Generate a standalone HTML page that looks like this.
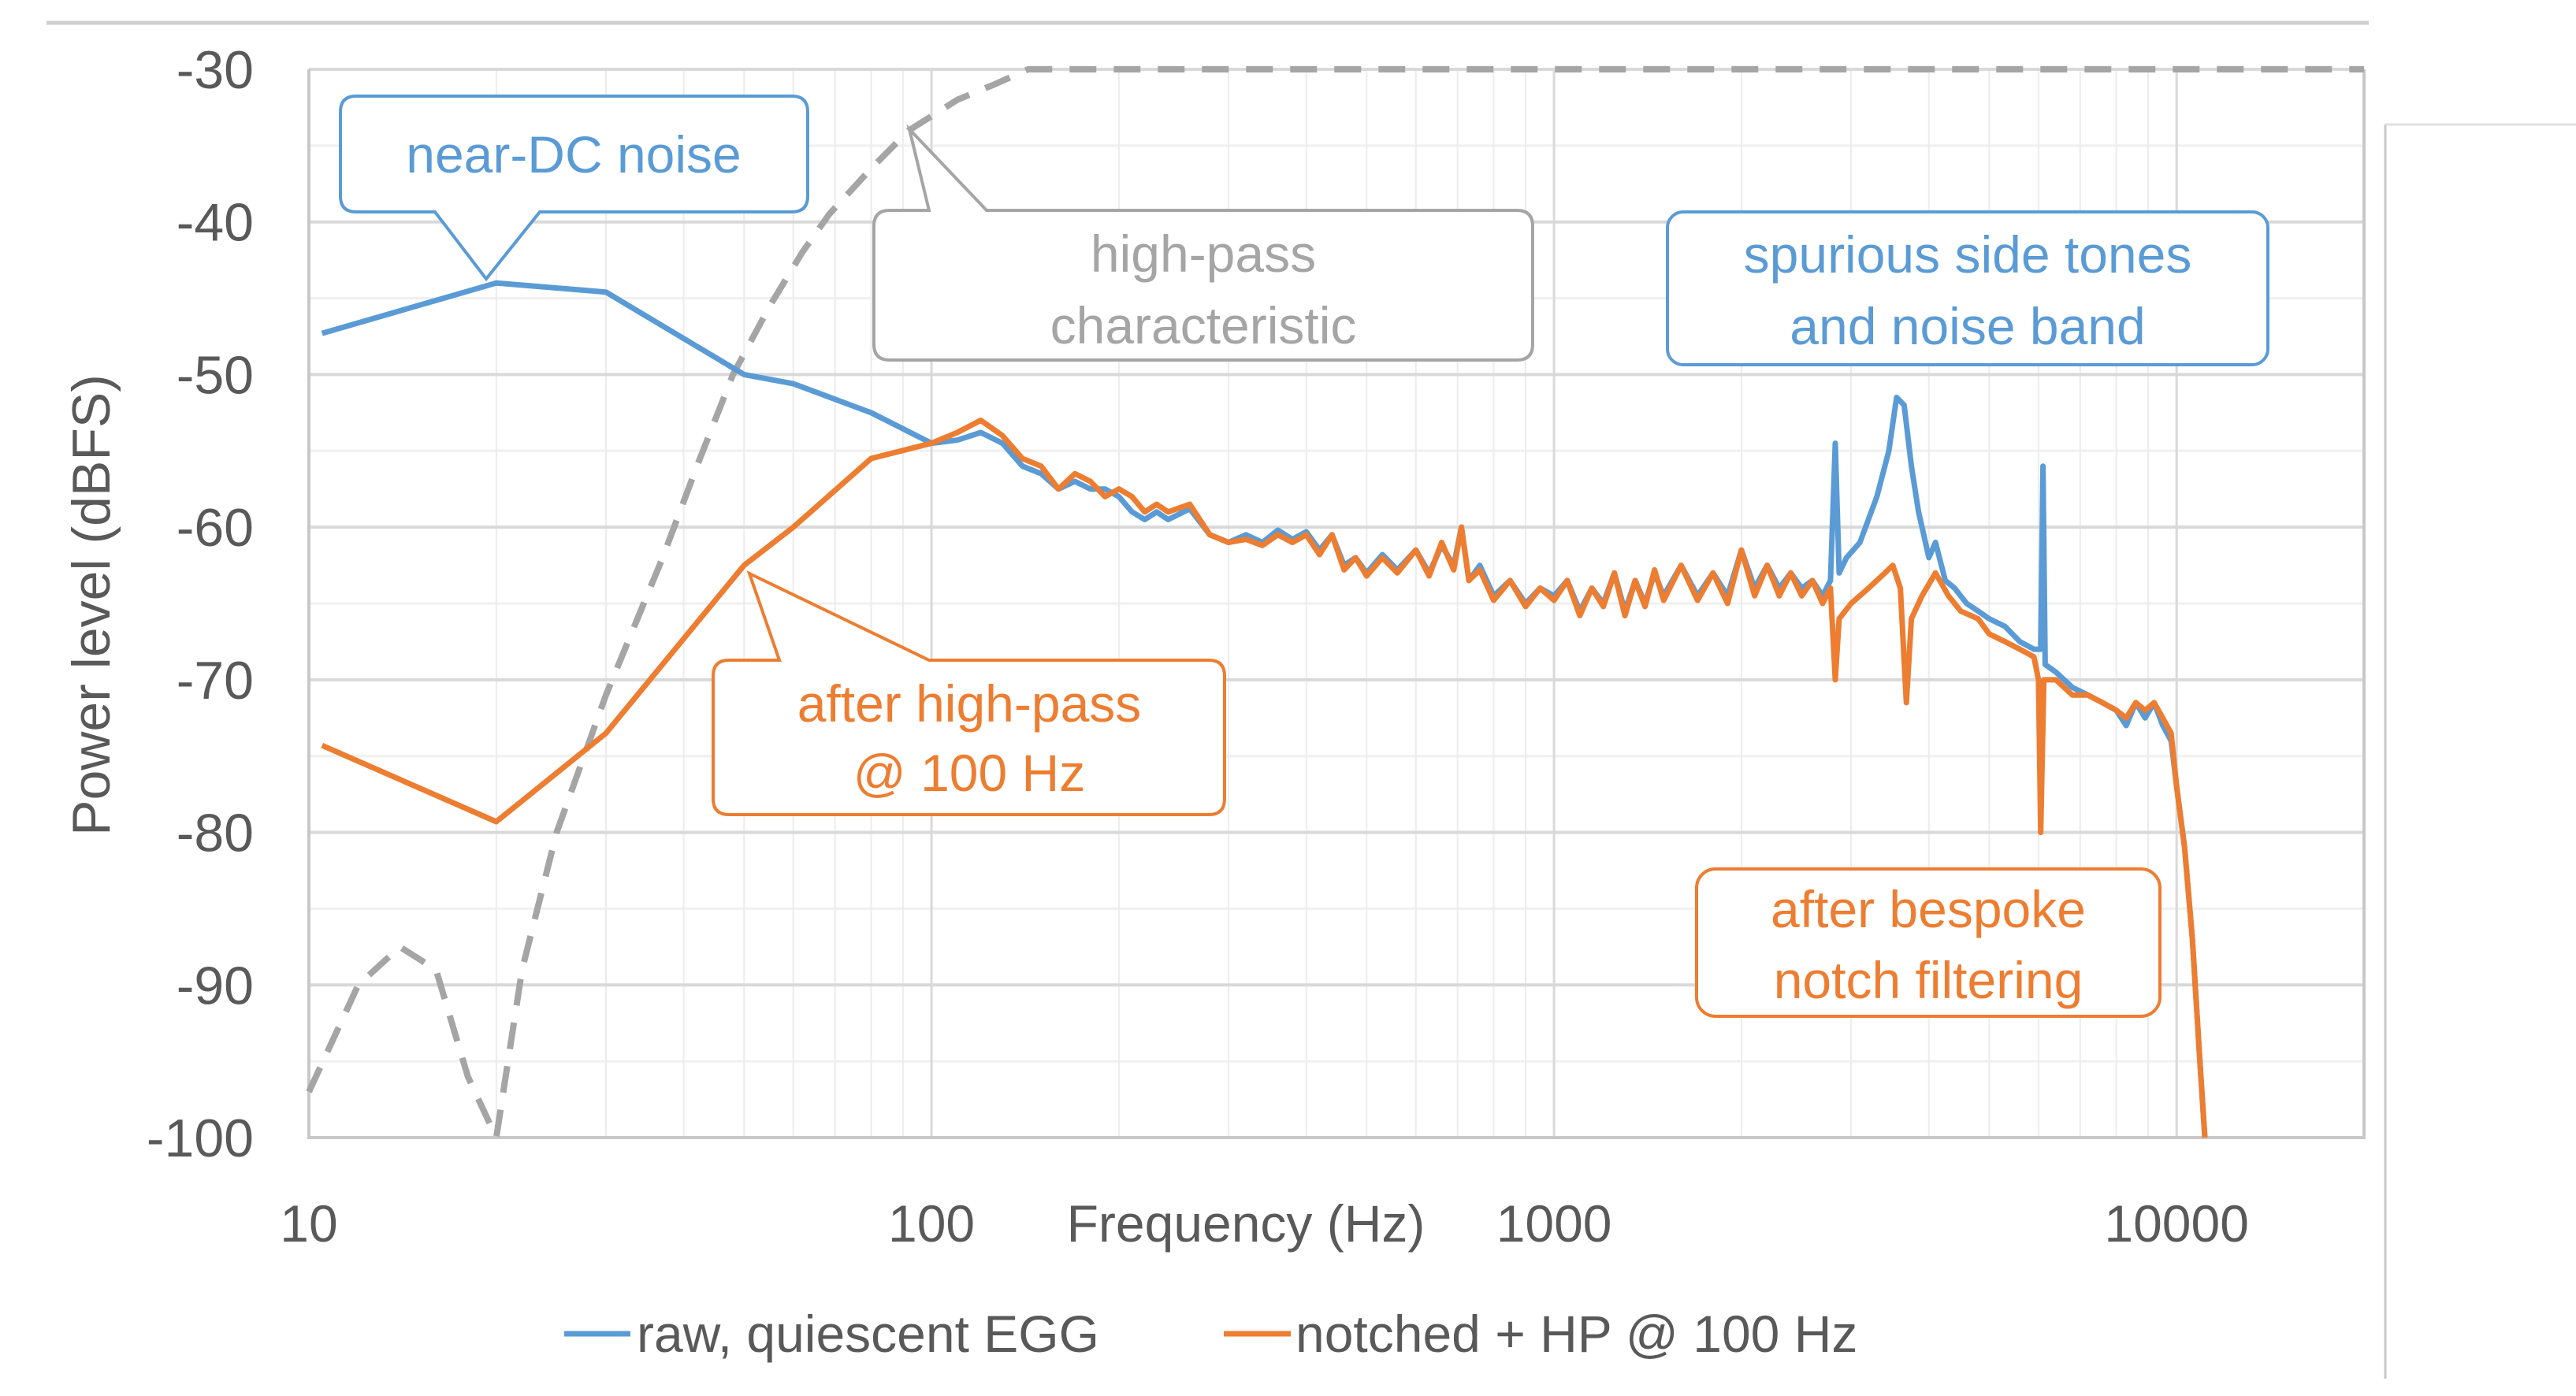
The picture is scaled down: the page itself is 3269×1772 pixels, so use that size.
<!DOCTYPE html>
<html><head><meta charset="utf-8"><style>
html,body{margin:0;padding:0;background:#fff;}
svg{display:block;font-family:"Liberation Sans",sans-serif;}
</style></head><body>
<svg id="chart" width="3269" height="1772" viewBox="0 0 3269 1772">
<line x1="59" y1="29" x2="3006" y2="29" stroke="#d0d0d0" stroke-width="5"/>
<line x1="3027" y1="158" x2="3027" y2="1750" stroke="#c8c8c8" stroke-width="3"/>
<line x1="3027" y1="158" x2="3269" y2="158" stroke="#e0e0e0" stroke-width="3"/>
<g id="grid"></g>
<g id="ylabels"></g>
<g id="xlabels"></g>
<g id="series"></g>
<text x="116" y="768" transform="rotate(-90 116 768)" text-anchor="middle" font-size="68" fill="#595959" dominant-baseline="central">Power level (dBFS)</text>
<text x="1581" y="1576" text-anchor="middle" font-size="66" fill="#595959">Frequency (Hz)</text>
<g>
<g><line x1="716" y1="1693" x2="800" y2="1693" stroke="#5b9bd5" stroke-width="7"/><text x="808" y="1716" font-size="66" fill="#595959">raw, quiescent EGG</text></g>
<g><line x1="1553" y1="1693" x2="1638" y2="1693" stroke="#ed7d31" stroke-width="7"/><text x="1644" y="1716" font-size="66" fill="#595959">notched + HP @ 100 Hz</text></g>
</g>
<g>
<path d="M452,122 H1005 Q1025,122 1025,142 V249 Q1025,269 1005,269 H685 L617,354 L552,269 H452 Q432,269 432,249 V142 Q432,122 452,122 Z" fill="#fff" stroke="#5b9bd5" stroke-width="4"/>
<text x="728" y="219" text-anchor="middle" font-size="66" fill="#5b9bd5">near-DC noise</text>
</g>
<g>
<path d="M1129,267 H1179 L1154,164 L1252,267 H1925 Q1945,267 1945,287 V437 Q1945,457 1925,457 H1129 Q1109,457 1109,437 V287 Q1109,267 1129,267 Z" fill="#fff" stroke="#a5a5a5" stroke-width="4"/>
<text x="1527" y="345" text-anchor="middle" font-size="66" fill="#a5a5a5">high-pass</text>
<text x="1527" y="436" text-anchor="middle" font-size="66" fill="#a5a5a5">characteristic</text>
</g>
<g>
<rect x="2116" y="269" width="762" height="194" rx="20" fill="#fff" stroke="#5b9bd5" stroke-width="4"/>
<text x="2497" y="346" text-anchor="middle" font-size="66" fill="#5b9bd5">spurious side tones</text>
<text x="2497" y="437" text-anchor="middle" font-size="66" fill="#5b9bd5">and noise band</text>
</g>
<g>
<path d="M925,838 H989 L951,728 L1179,838 H1534 Q1554,838 1554,858 V1014 Q1554,1034 1534,1034 H925 Q905,1034 905,1014 V858 Q905,838 925,838 Z" fill="#fff" stroke="#ed7d31" stroke-width="4"/>
<text x="1230" y="916" text-anchor="middle" font-size="66" fill="#ed7d31">after high-pass</text>
<text x="1230" y="1004" text-anchor="middle" font-size="66" fill="#ed7d31">@ 100 Hz</text>
</g>
<g>
<rect x="2153" y="1103" width="588" height="187" rx="24" fill="#fff" stroke="#ed7d31" stroke-width="4"/>
<text x="2447" y="1177" text-anchor="middle" font-size="66" fill="#ed7d31">after bespoke</text>
<text x="2447" y="1267" text-anchor="middle" font-size="66" fill="#ed7d31">notch filtering</text>
</g>
</svg>
<script>
const yTicks=[-30,-40,-50,-60,-70,-80,-90,-100];
const xTicks=[10,100,1000,10000];
const hpFreq=[10,12,14,16,18,20,22,25,30,37,42,48,55,62,68.5,80,92,110,126,143,200,400,1000,3000,8000,20000];
const hpVals=[-97,-90,-87.5,-89,-96,-100,-89,-80,-71,-62,-56,-50,-45.5,-42,-39.5,-36.5,-34,-32,-31,-30,-30,-30,-30,-30,-30,-30];
const rawFreq=[10.5,20,30,50,60,80,100,110,120,130,140,150,160,170,180,190,200,210,220,230,240,260,280,300,320,340,360,380,400,420,440,460,480,500,530,560,600,630,660,690,710,730,760,800,850,900,950,1000,1050,1100,1150,1200,1250,1300,1350,1400,1450,1500,1600,1700,1800,1900,2000,2100,2200,2300,2400,2500,2600,2700,2780,2830,2870,2950,3100,3300,3450,3550,3650,3750,3850,4000,4100,4250,4400,4600,4800,5000,5300,5600,5900,6050,6100,6150,6400,6800,7200,7600,8000,8300,8600,8900,9200,9500,9800,10000,10300,10600,10900,11100];
const rawVals=[-47.3,-44,-44.6,-50,-50.6,-52.5,-54.5,-54.3,-53.8,-54.5,-56,-56.5,-57.5,-57,-57.5,-57.5,-58,-59,-59.5,-59,-59.5,-58.8,-60.5,-61,-60.5,-61,-60.2,-60.8,-60.3,-61.5,-60.5,-62.5,-62,-63,-61.8,-62.8,-61.5,-63,-61.2,-62.5,-60,-63.5,-62.5,-64.5,-63.5,-65,-64,-64.5,-63.5,-65.5,-64,-65,-63,-65.5,-63.5,-65,-63,-64.5,-62.5,-64.5,-63,-64.5,-61.5,-64,-62.5,-64,-63,-64,-63.5,-64.5,-63.5,-54.5,-63,-62,-61,-58,-55,-51.5,-52,-56,-59,-62,-61,-63.5,-64,-65,-65.5,-66,-66.5,-67.5,-68,-68,-56,-69,-69.5,-70.5,-71,-71.5,-72,-73,-71.5,-72.5,-71.5,-73,-74,-77,-81,-87,-95,-100];
const notchFreq=[10.5,20,30,50,60,80,100,110,120,130,140,150,160,170,180,190,200,210,220,230,240,260,280,300,320,340,360,380,400,420,440,460,480,500,530,560,600,630,660,690,710,730,760,800,850,900,950,1000,1050,1100,1150,1200,1250,1300,1350,1400,1450,1500,1600,1700,1800,1900,2000,2100,2200,2300,2400,2500,2600,2700,2780,2830,2870,3000,3200,3400,3500,3600,3680,3750,3900,4100,4300,4500,4800,5000,5300,5600,5900,6000,6050,6120,6400,6800,7200,7600,8000,8300,8600,8900,9200,9500,9800,10000,10300,10600,10900,11100];
const notchVals=[-74.3,-79.3,-73.5,-62.5,-60,-55.5,-54.5,-53.8,-53,-54,-55.5,-56,-57.5,-56.5,-57,-58,-57.5,-58,-59,-58.5,-59,-58.5,-60.5,-61,-60.8,-61.2,-60.5,-61,-60.5,-61.8,-60.5,-62.8,-62,-63.2,-62,-63,-61.5,-63.2,-61,-62.8,-60,-63.5,-62.8,-64.8,-63.5,-65.2,-64,-64.8,-63.5,-65.8,-64,-65.2,-63,-65.8,-63.5,-65.2,-62.8,-64.8,-62.5,-64.8,-63,-65,-61.5,-64.5,-62.5,-64.5,-63,-64.5,-63.5,-65,-64,-70,-66,-65,-64,-63,-62.5,-64,-71.5,-66,-64.5,-63,-64.5,-65.5,-66,-67,-67.5,-68,-68.5,-70,-80,-70,-70,-71,-71,-71.5,-72,-72.5,-71.5,-72,-71.5,-72.5,-73.5,-77,-81,-87,-95,-100];

const NS='http://www.w3.org/2000/svg';
const L=392,R=3000,T=88,B=1444,lx0=1,lx1=Math.log10(20000);
const xs=f=>L+(Math.log10(f)-lx0)/(lx1-lx0)*(R-L);
const ys=v=>T+(-30-v)/70*(B-T);
function mk(tag,attrs,parent){const e=document.createElementNS(NS,tag);for(const k in attrs)e.setAttribute(k,attrs[k]);parent.appendChild(e);return e;}
const grid=document.getElementById('grid');
for(let v=-35;v>-100;v-=10){const l=mk('line',{x1:L,x2:R,y1:ys(v),y2:ys(v),stroke:'#f0f0f0','stroke-width':3},grid);

}
for(let d=10;d<20000;d*=10){for(let m=2;m<10;m++){const f=d*m;if(f>=20000)break;const l=mk('line',{x1:xs(f),x2:xs(f),y1:T,y2:B,stroke:'#ececec','stroke-width':2},grid);

}}
yTicks.forEach(v=>{const l=mk('line',{x1:L,x2:R,y1:ys(v),y2:ys(v),stroke:'#d9d9d9','stroke-width':4},grid);


const t=mk('text',{x:322,y:ys(v)+24,'text-anchor':'end','font-size':68,fill:'#595959'},document.getElementById('ylabels'));t.textContent=v;

});
xTicks.forEach(f=>{const l=mk('line',{x1:xs(f),x2:xs(f),y1:T,y2:B,stroke:'#d9d9d9','stroke-width':3},grid);


const t=mk('text',{x:xs(f),y:1576,'text-anchor':'middle','font-size':66,fill:'#595959'},document.getElementById('xlabels'));t.textContent=f;

});
const ax=mk('path',{d:`M${L},${T} V${B} H${R} V${T}`,fill:'none',stroke:'#c8c8c8','stroke-width':4},grid);


const ser=document.getElementById('series');
function line(fr,vals,color,w,dash,name){const d=fr.map((f,i)=>(i?'L':'M')+xs(f).toFixed(1)+','+ys(vals[i]).toFixed(1)).join(' ');
const p=mk('path',{d:d,fill:'none',stroke:color,'stroke-width':w,'stroke-linejoin':'round'},ser);if(dash)p.setAttribute('stroke-dasharray',dash);

}
line(hpFreq,hpVals,'#a5a5a5',8,'34 22','high-pass-curve');
line(rawFreq,rawVals,'#5b9bd5',7,null,'raw-egg-line');
line(notchFreq,notchVals,'#ed7d31',7,null,'notched-hp-line');
</script>
</body></html>
